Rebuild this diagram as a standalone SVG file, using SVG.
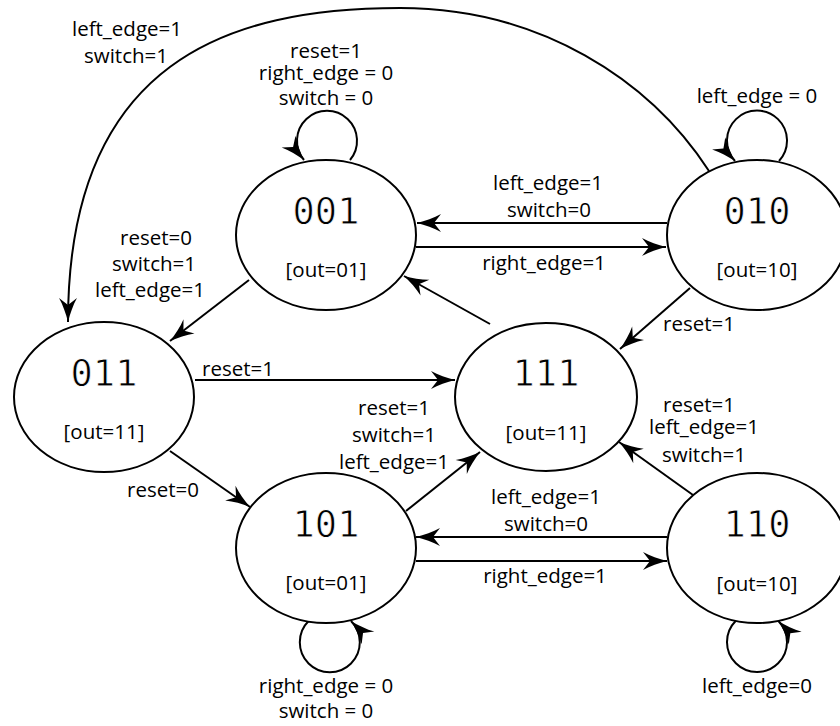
<svg xmlns="http://www.w3.org/2000/svg" width="840" height="726" viewBox="0 0 840 726">
  <style>
    .state { fill: #ffffff; stroke: #000000; stroke-width: 2; }
    .num { font-family: "DejaVu Sans Mono", "Liberation Mono", monospace; font-size: 37px; text-anchor: middle; fill: #000; stroke: #fff; stroke-width: 0.8px; }
    .out { font-family: "Open Sans", "Liberation Sans", sans-serif; font-size: 20.5px; text-anchor: middle; fill: #000; }
    .lbl { font-family: "Open Sans", "Liberation Sans", sans-serif; font-size: 20.5px; text-anchor: middle; fill: #000; }
    .edge { fill: none; stroke: #000000; stroke-width: 2; marker-end: url(#arrow); }
  </style>
  <defs>
    <marker id="arrow" markerUnits="userSpaceOnUse" markerWidth="30" markerHeight="24" viewBox="-26 -12 28 24" refX="0" refY="0" orient="auto">
      <path d="M0,0 C-8,-2 -17,-5 -24,-9 L-17,0 L-24,9 C-17,5 -8,2 0,0 Z" fill="#000"/>
    </marker>
  </defs>

  <rect width="840" height="726" fill="#ffffff"/>

  <!-- transitions -->
  <g id="connectors">
    <path class="edge" d="M 709 171 C 650 80, 540 8, 400 8 C 230 8, 68 60, 68 322"/>
    <path class="edge" d="M 350 160 A 30 30 0 1 0 304 160"/>
    <path class="edge" d="M 779 161 A 30 30 0 1 0 735 161"/>
    <path class="edge" d="M 308.6 621 A 30 30 0 1 0 351 621"/>
    <path class="edge" d="M 735.6 621 A 30 30 0 1 0 778.4 621"/>
    <path class="edge" d="M 667 223 L 417 223"/>
    <path class="edge" d="M 416 247 L 666 247"/>
    <path class="edge" d="M 249 280 L 170 341"/>
    <path class="edge" d="M 690 288 L 620 349"/>
    <path class="edge" d="M 490 324 L 404 276"/>
    <path class="edge" d="M 195 380 L 455 380"/>
    <path class="edge" d="M 170 451 L 250 507"/>
    <path class="edge" d="M 406 511 L 480 452"/>
    <path class="edge" d="M 693 495 L 619 442"/>
    <path class="edge" d="M 667 537 L 416 537"/>
    <path class="edge" d="M 416 561 L 667 561"/>
  </g>

  <g id="labels">
    <text class="lbl" x="127" y="36">left_edge=1</text>
    <text class="lbl" x="126" y="63">switch=1</text>
    <text class="lbl" x="326" y="58">reset=1</text>
    <text class="lbl" x="326" y="80">right_edge = 0</text>
    <text class="lbl" x="326" y="105">switch = 0</text>
    <text class="lbl" x="757" y="103">left_edge = 0</text>
    <text class="lbl" x="548" y="190">left_edge=1</text>
    <text class="lbl" x="549" y="217">switch=0</text>
    <text class="lbl" x="544" y="270">right_edge=1</text>
    <text class="lbl" x="156" y="245">reset=0</text>
    <text class="lbl" x="154" y="271">switch=1</text>
    <text class="lbl" x="150" y="297">left_edge=1</text>
    <text class="lbl" x="699" y="331">reset=1</text>
    <text class="lbl" x="238" y="376">reset=1</text>
    <text class="lbl" x="394" y="415">reset=1</text>
    <text class="lbl" x="394" y="442">switch=1</text>
    <text class="lbl" x="394" y="469">left_edge=1</text>
    <text class="lbl" x="163" y="497">reset=0</text>
    <text class="lbl" x="699" y="412">reset=1</text>
    <text class="lbl" x="704" y="434">left_edge=1</text>
    <text class="lbl" x="704" y="462">switch=1</text>
    <text class="lbl" x="546" y="504">left_edge=1</text>
    <text class="lbl" x="546" y="531">switch=0</text>
    <text class="lbl" x="545" y="583">right_edge=1</text>
    <text class="lbl" x="757" y="693">left_edge=0</text>
    <text class="lbl" x="326" y="693">right_edge = 0</text>
    <text class="lbl" x="326" y="718">switch = 0</text>
  </g>

  <g id="s001">
    <ellipse class="state" cx="326" cy="235" rx="90" ry="75"/>
    <text class="num" x="326" y="224">001</text>
    <text class="out" x="326" y="277">[out=01]</text>
  </g>
  <g id="s010">
    <ellipse class="state" cx="757" cy="235" rx="90" ry="75"/>
    <text class="num" x="757" y="224">010</text>
    <text class="out" x="757" y="277">[out=10]</text>
  </g>
  <g id="s011">
    <ellipse class="state" cx="104" cy="397" rx="90" ry="75"/>
    <text class="num" x="104" y="386">011</text>
    <text class="out" x="104" y="439">[out=11]</text>
  </g>
  <g id="s111">
    <ellipse class="state" cx="546" cy="397" rx="91" ry="74"/>
    <text class="num" x="546" y="386">111</text>
    <text class="out" x="546" y="440">[out=11]</text>
  </g>
  <g id="s101">
    <ellipse class="state" cx="326" cy="548" rx="90" ry="75"/>
    <text class="num" x="326" y="537">101</text>
    <text class="out" x="326" y="590">[out=01]</text>
  </g>
  <g id="s110">
    <ellipse class="state" cx="757" cy="548" rx="90" ry="75"/>
    <text class="num" x="757" y="537">110</text>
    <text class="out" x="757" y="591">[out=10]</text>
  </g>
</svg>
